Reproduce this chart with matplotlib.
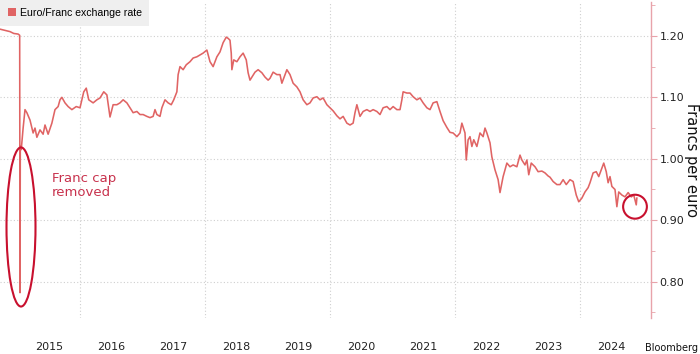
import matplotlib
matplotlib.use("Agg")
import matplotlib.pyplot as plt
from matplotlib.patches import Ellipse, Patch
from matplotlib.ticker import FixedLocator, MultipleLocator, FormatStrFormatter

# ---- data (decimal year, francs per euro) ----
years = [
    2014.72, 2014.80, 2014.88, 2014.94, 2015.01, 2015.035, 2015.04, 2015.045,
    2015.06, 2015.09, 2015.12, 2015.15, 2015.20, 2015.25, 2015.28, 2015.31, 2015.36, 2015.41,
    2015.44, 2015.49, 2015.55, 2015.60, 2015.65, 2015.68, 2015.71, 2015.76, 2015.81, 2015.87,
    2015.94, 2016.00, 2016.06, 2016.10, 2016.14, 2016.21, 2016.27, 2016.32, 2016.38, 2016.43,
    2016.46, 2016.48, 2016.53, 2016.59, 2016.64, 2016.69, 2016.75, 2016.80, 2016.85, 2016.91,
    2016.96, 2017.01, 2017.07, 2017.12, 2017.17, 2017.20, 2017.23, 2017.28, 2017.31, 2017.36,
    2017.41, 2017.46, 2017.50, 2017.55, 2017.57, 2017.60, 2017.65, 2017.70, 2017.76, 2017.81,
    2017.87, 2017.92, 2017.97, 2018.03, 2018.08, 2018.13, 2018.19, 2018.24, 2018.29, 2018.34,
    2018.37, 2018.40, 2018.42, 2018.43, 2018.46, 2018.51, 2018.56, 2018.61, 2018.66, 2018.69,
    2018.72, 2018.75, 2018.80, 2018.85, 2018.91, 2018.96, 2019.01, 2019.04, 2019.09, 2019.15,
    2019.20, 2019.23, 2019.28, 2019.31, 2019.36, 2019.41, 2019.47, 2019.52, 2019.57, 2019.63,
    2019.68, 2019.73, 2019.79, 2019.84, 2019.89, 2019.95, 2020.00, 2020.05, 2020.11, 2020.16,
    2020.21, 2020.27, 2020.32, 2020.37, 2020.40, 2020.43, 2020.48, 2020.53, 2020.59, 2020.64,
    2020.69, 2020.75, 2020.80, 2020.85, 2020.91, 2020.96, 2021.01, 2021.07, 2021.12, 2021.15,
    2021.17, 2021.23, 2021.28, 2021.33, 2021.39, 2021.44, 2021.49, 2021.55, 2021.60, 2021.65,
    2021.71, 2021.76, 2021.81, 2021.87, 2021.92, 2021.97, 2022.03, 2022.08, 2022.11, 2022.16,
    2022.18, 2022.21, 2022.24, 2022.27, 2022.30, 2022.35, 2022.40, 2022.45, 2022.48, 2022.51,
    2022.56, 2022.59, 2022.64, 2022.69, 2022.72, 2022.77, 2022.83, 2022.88, 2022.93, 2022.99,
    2023.04, 2023.07, 2023.12, 2023.15, 2023.18, 2023.22, 2023.28, 2023.33, 2023.39, 2023.44,
    2023.49, 2023.52, 2023.57, 2023.63, 2023.68, 2023.73, 2023.78, 2023.84, 2023.89, 2023.94,
    2023.98, 2024.03, 2024.08, 2024.13, 2024.16, 2024.21, 2024.26, 2024.30, 2024.35, 2024.38,
    2024.42, 2024.45, 2024.48, 2024.51, 2024.56, 2024.59, 2024.62, 2024.67, 2024.72, 2024.77,
    2024.82, 2024.86, 2024.90, 2024.91,
]
rates = [
    1.211, 1.209, 1.207, 1.204, 1.203, 1.201, 0.782, 1.020,
    1.015, 1.050, 1.080, 1.075, 1.063, 1.042, 1.050, 1.035, 1.047, 1.040,
    1.055, 1.040, 1.058, 1.080, 1.085, 1.096, 1.100, 1.091, 1.085, 1.080,
    1.085, 1.083, 1.109, 1.115, 1.096, 1.091, 1.096, 1.099, 1.109, 1.104,
    1.083, 1.068, 1.088, 1.088, 1.091, 1.096, 1.091, 1.083, 1.075, 1.077,
    1.072, 1.072, 1.069, 1.067, 1.069, 1.080, 1.072, 1.069, 1.083, 1.096,
    1.091, 1.088, 1.096, 1.109, 1.137, 1.150, 1.145, 1.153, 1.158, 1.164,
    1.166, 1.169, 1.172, 1.177, 1.158, 1.150, 1.166, 1.174, 1.189, 1.198,
    1.196, 1.193, 1.172, 1.145, 1.161, 1.158, 1.166, 1.172, 1.161, 1.140,
    1.128, 1.133, 1.141, 1.145, 1.140, 1.133, 1.128, 1.131, 1.141, 1.137,
    1.137, 1.123, 1.137, 1.145, 1.137, 1.123, 1.117, 1.109, 1.096, 1.088,
    1.091, 1.099, 1.101, 1.096, 1.099, 1.088, 1.083, 1.078, 1.070, 1.065,
    1.069, 1.058, 1.055, 1.058, 1.075, 1.088, 1.069, 1.077, 1.080, 1.077,
    1.080, 1.077, 1.072, 1.083, 1.085, 1.080, 1.085, 1.080, 1.080, 1.096,
    1.109, 1.107, 1.107, 1.101, 1.096, 1.099, 1.091, 1.083, 1.080, 1.091,
    1.093, 1.077, 1.062, 1.051, 1.043, 1.042, 1.036, 1.042, 1.058, 1.042,
    0.998, 1.031, 1.036, 1.020, 1.031, 1.020, 1.042, 1.036, 1.050, 1.042,
    1.026, 1.003, 0.982, 0.966, 0.945, 0.971, 0.993, 0.987, 0.990, 0.987,
    1.006, 0.998, 0.990, 0.998, 0.974, 0.993, 0.987, 0.979, 0.980, 0.977,
    0.972, 0.970, 0.963, 0.958, 0.958, 0.966, 0.958, 0.966, 0.963, 0.941,
    0.930, 0.936, 0.946, 0.953, 0.961, 0.977, 0.979, 0.971, 0.985, 0.993,
    0.979, 0.961, 0.971, 0.955, 0.950, 0.922, 0.946, 0.941, 0.938, 0.945,
    0.938, 0.941, 0.925, 0.936,
]
year_labels = ["2015", "2016", "2017", "2018", "2019", "2020", "2021", "2022", "2023", "2024"]
y_ticks = [0.80, 0.90, 1.00, 1.10, 1.20]
series_name = "Euro/Franc exchange rate"
axis_title = "Francs per euro"
note_text = "Franc cap\nremoved"
cap_event = (2015.056, 0.889)
latest_point = (2024.88, 0.922)

LINE = "#e06464"
RED = "#c8102e"
PINK = "#e8a3aa"

fig = plt.figure(figsize=(7.0, 3.54), dpi=100)
ax = fig.add_axes([0.0, 0.102, 0.93, 0.892])

ax.plot(years, rates, color=LINE, lw=1.15, zorder=3)

ax.set_xlim(2014.72, 2025.136)
ax.set_ylim(0.741, 1.255)

# x axis: labels at mid-year, grid every two years
ax.set_xticks([int(y) + 0.5 for y in year_labels])
ax.set_xticklabels(year_labels)
ax.xaxis.set_minor_locator(FixedLocator([2016, 2018, 2020, 2022, 2024]))
ax.tick_params(axis="x", which="both", length=0, pad=17, labelsize=8, labelcolor="#222222")
ax.grid(axis="x", which="minor", color="#cfcfcf", linestyle=(0, (1, 2)), lw=0.8)

# y axis on the right
ax.yaxis.tick_right()
ax.set_yticks(y_ticks)
ax.yaxis.set_major_formatter(FormatStrFormatter("%.2f"))
ax.yaxis.set_minor_locator(MultipleLocator(0.05))
ax.tick_params(axis="y", which="major", length=4, color=PINK, pad=2, labelsize=8,
               labelcolor="#222222")
ax.tick_params(axis="y", which="minor", length=3, color=PINK)
ax.grid(axis="y", which="major", color="#cfcfcf", linestyle=(0, (1, 2)), lw=0.8)

for s in ["top", "left", "bottom"]:
    ax.spines[s].set_visible(False)
ax.spines["right"].set_color(PINK)
ax.spines["right"].set_linewidth(1.0)

fig.text(0.988, 0.102 + 0.892 / 2, axis_title, rotation=270, va="center", ha="center",
         fontsize=10.5, color="#111111")

# annotations
ax.add_patch(Ellipse(cap_event, 0.464, 0.259, fill=False, edgecolor=RED, lw=1.5, zorder=4))
ax.add_patch(Ellipse(latest_point, 0.38, 0.039, fill=False, edgecolor=RED, lw=1.5, zorder=4))
ax.text(2015.55, 0.979, note_text, color="#c8324d", fontsize=9.5, va="top", ha="left",
        linespacing=1.15)

# legend
leg = ax.legend(handles=[Patch(facecolor=LINE, edgecolor="none", label=series_name)],
                loc="upper left", bbox_to_anchor=(0.0, 1.0 + 2 / 316), frameon=True,
                fancybox=False, facecolor="#efefef", edgecolor="none", framealpha=1,
                handlelength=0.75, handleheight=0.75, handletextpad=0.35,
                borderpad=0.75, borderaxespad=0,
                prop={"family": "Liberation Sans", "size": 7.6})
leg.get_frame().set_linewidth(0)

fig.text(0.997, 0.004, "Bloomberg", va="bottom", ha="right", fontsize=7, color="#111111")

fig.savefig("out.png", dpi=100)
